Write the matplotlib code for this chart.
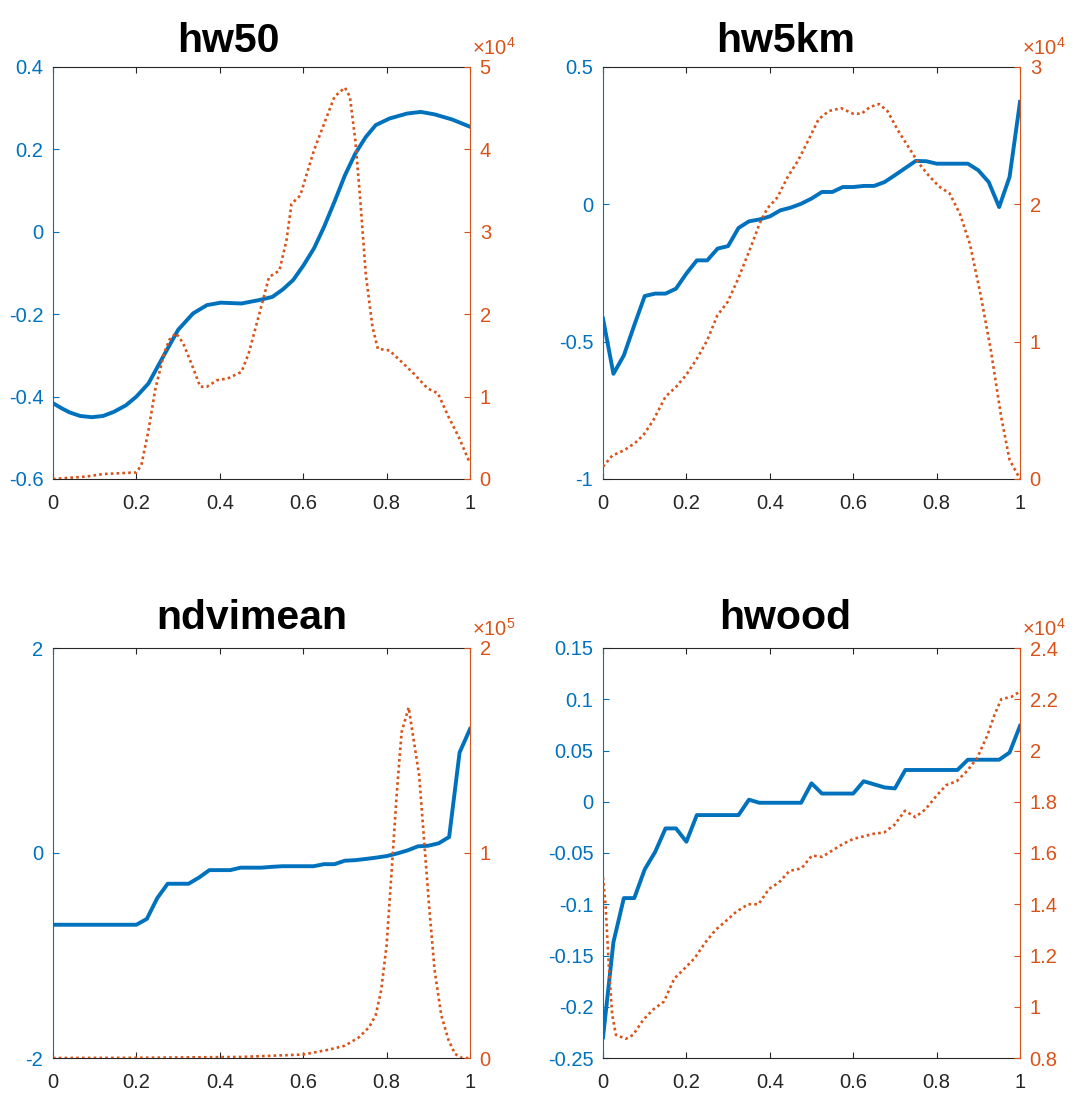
import matplotlib
matplotlib.use('Agg')
import matplotlib.pyplot as plt
import numpy as np
from matplotlib.ticker import FuncFormatter, MultipleLocator

plt.rcParams.update({
    'font.family': ['Liberation Sans', 'DejaVu Sans'],
    'mathtext.fontset': 'custom',
    'mathtext.rm': 'Liberation Sans',
    'axes.unicode_minus': False,
})

BLUE = '#0072BD'
ORANGE = '#D95319'
DARK = '#262626'

# ---- data ----
GRID41 = np.linspace(0, 1, 41)

HW50_BLUE_X = [0, 0.02, 0.039, 0.065, 0.093, 0.12, 0.146, 0.175, 0.2, 0.229,
               0.262, 0.3, 0.336, 0.369, 0.402, 0.452, 0.493, 0.526, 0.551,
               0.576, 0.601, 0.626, 0.65, 0.675, 0.7, 0.725, 0.75, 0.774,
               0.807, 0.849, 0.882, 0.915, 0.956, 1.0]
HW50_BLUE_Y = [-0.416, -0.428, -0.438, -0.447, -0.450, -0.447, -0.437, -0.421,
               -0.400, -0.368, -0.307, -0.238, -0.198, -0.178, -0.172, -0.174,
               -0.166, -0.158, -0.140, -0.117, -0.081, -0.040, 0.012, 0.073,
               0.137, 0.190, 0.230, 0.259, 0.275, 0.287, 0.291, 0.285, 0.273,
               0.255]
HW50_OR_X = [0, 0.08, 0.12, 0.2, 0.212, 0.229, 0.245, 0.266, 0.279, 0.295,
             0.312, 0.332, 0.353, 0.369, 0.394, 0.419, 0.452, 0.469, 0.493,
             0.518, 0.543, 0.56, 0.572, 0.593, 0.609, 0.626, 0.65, 0.675, 0.7,
             0.712, 0.725, 0.737, 0.75, 0.766, 0.779, 0.807, 0.832, 0.865,
             0.898, 0.923, 0.948, 0.973, 1.0]
HW50_OR_Y = [0.0, 0.03, 0.06, 0.08, 0.17, 0.59, 1.08, 1.52, 1.69, 1.77, 1.65,
             1.40, 1.12, 1.12, 1.20, 1.22, 1.30, 1.52, 1.97, 2.45, 2.53, 2.90,
             3.34, 3.44, 3.71, 3.99, 4.31, 4.64, 4.75, 4.64, 4.11, 3.38, 2.49,
             1.85, 1.58, 1.56, 1.44, 1.28, 1.10, 1.04, 0.76, 0.51, 0.19]

HW5KM_BLUE_Y = [-0.416, -0.617, -0.55, -0.44, -0.334, -0.325, -0.325, -0.307,
                -0.252, -0.204, -0.204, -0.161, -0.152, -0.086, -0.062, -0.055,
                -0.044, -0.022, -0.012, 0.002, 0.021, 0.045, 0.045, 0.063,
                0.063, 0.067, 0.067, 0.081, 0.106, 0.132, 0.158, 0.157, 0.148,
                0.148, 0.148, 0.148, 0.124, 0.081, -0.010, 0.1, 0.373]
HW5KM_OR_X = [0, 0.022, 0.051, 0.076, 0.097, 0.121, 0.15, 0.175, 0.2, 0.224,
              0.25, 0.274, 0.299, 0.323, 0.352, 0.377, 0.394, 0.418, 0.443,
              0.468, 0.493, 0.517, 0.542, 0.571, 0.6, 0.62, 0.641, 0.662,
              0.682, 0.707, 0.732, 0.757, 0.781, 0.806, 0.831, 0.856, 0.88,
              0.905, 0.93, 0.955, 0.975, 1.0]
HW5KM_OR_Y = [0.09, 0.17, 0.21, 0.26, 0.32, 0.43, 0.60, 0.67, 0.76, 0.87, 1.01,
              1.19, 1.29, 1.45, 1.67, 1.87, 1.97, 2.05, 2.20, 2.32, 2.47, 2.62,
              2.68, 2.70, 2.66, 2.66, 2.71, 2.73, 2.68, 2.54, 2.42, 2.30, 2.21,
              2.13, 2.08, 1.93, 1.71, 1.35, 0.94, 0.45, 0.14, 0.0]

NDVI_BLUE_Y = [-0.70, -0.70, -0.70, -0.70, -0.70, -0.70, -0.70, -0.70, -0.70,
               -0.643, -0.44, -0.30, -0.30, -0.30, -0.24, -0.167, -0.167,
               -0.167, -0.143, -0.143, -0.143, -0.135, -0.129, -0.129, -0.129,
               -0.129, -0.109, -0.109, -0.075, -0.070, -0.058, -0.045, -0.030,
               -0.005, 0.025, 0.065, 0.071, 0.095, 0.156, 0.98, 1.21]
NDVI_OR_X = [0, 0.2, 0.45, 0.6, 0.66, 0.7, 0.733, 0.758, 0.774, 0.787, 0.8,
             0.812, 0.824, 0.836, 0.853, 0.865, 0.878, 0.89, 0.902, 0.915,
             0.931, 0.948, 0.964, 0.981, 1.0]
NDVI_OR_Y = [0.0, 0.001, 0.005, 0.017, 0.04, 0.06, 0.10, 0.15, 0.21, 0.33,
             0.55, 0.91, 1.28, 1.59, 1.71, 1.55, 1.38, 1.06, 0.74, 0.43, 0.21,
             0.09, 0.02, 0.0, 0.0]

HWOOD_BLUE_Y = [-0.230, -0.137, -0.094, -0.094, -0.066, -0.049, -0.026, -0.026,
                -0.039, -0.013, -0.013, -0.013, -0.013, -0.013, 0.002, -0.001,
                -0.001, -0.001, -0.001, -0.001, 0.018, 0.008, 0.008, 0.008,
                0.008, 0.020, 0.017, 0.014, 0.013, 0.031, 0.031, 0.031, 0.031,
                0.031, 0.031, 0.041, 0.041, 0.041, 0.041, 0.048, 0.074]
HWOOD_OR_X = [0, 0.006, 0.014, 0.022, 0.031, 0.047, 0.055, 0.072, 0.097,
              0.121, 0.146, 0.171, 0.196, 0.22, 0.245, 0.27, 0.295, 0.319,
              0.348, 0.373, 0.398, 0.422, 0.447, 0.476, 0.501, 0.526, 0.55,
              0.575, 0.6, 0.625, 0.649, 0.674, 0.699, 0.724, 0.749, 0.773,
              0.798, 0.823, 0.848, 0.873, 0.897, 0.922, 0.939, 0.955, 0.98, 1.0]
HWOOD_OR_Y = [1.505, 1.40, 1.16, 0.97, 0.89, 0.88, 0.875, 0.89, 0.95, 0.99,
              1.02, 1.11, 1.15, 1.19, 1.25, 1.30, 1.335, 1.37, 1.40, 1.40,
              1.46, 1.485, 1.53, 1.54, 1.59, 1.585, 1.61, 1.635, 1.655, 1.665,
              1.675, 1.68, 1.71, 1.765, 1.74, 1.77, 1.82, 1.865, 1.88, 1.92,
              1.97, 2.06, 2.14, 2.20, 2.21, 2.23]

PANELS = [
    dict(title='hw50', bx=HW50_BLUE_X, by=HW50_BLUE_Y, ox=HW50_OR_X,
         oy=HW50_OR_Y, exp=4, ylim=(-0.6, 0.4), ystep=0.2,
         rlim=(0, 5), rstep=1),
    dict(title='hw5km', bx=GRID41, by=HW5KM_BLUE_Y, ox=HW5KM_OR_X,
         oy=HW5KM_OR_Y, exp=4, ylim=(-1, 0.5), ystep=0.5,
         rlim=(0, 3), rstep=1),
    dict(title='ndvimean', bx=GRID41, by=NDVI_BLUE_Y, ox=NDVI_OR_X,
         oy=NDVI_OR_Y, exp=5, ylim=(-2, 2), ystep=2,
         rlim=(0, 2), rstep=1),
    dict(title='hwood', bx=GRID41, by=HWOOD_BLUE_Y, ox=HWOOD_OR_X,
         oy=HWOOD_OR_Y, exp=4, ylim=(-0.25, 0.15), ystep=0.05,
         rlim=(0.8, 2.4), rstep=0.2),
]

# axes rectangles in figure fractions (pixel layout of a 1078x1099 figure)
W, H = 1078, 1099
RECTS = [(53, 67, 417, 412), (603, 67, 417, 412),
         (53, 648, 417, 410), (603, 648, 417, 410)]
TITLE_X = [0.42, 0.438, 0.477, 0.436]
TITLE_PAD = [10.8, 10.8, 13.7, 13.7]
FS = 14.5


def fmt(v, _pos):
    s = f'{v:.2f}'.rstrip('0').rstrip('.')
    return '0' if s in ('-0', '') else s


fig = plt.figure(figsize=(W / 100, H / 100), dpi=100)

for p, (px, py, pw, ph), tx, tpad in zip(PANELS, RECTS, TITLE_X, TITLE_PAD):
    ax = fig.add_axes([px / W, 1 - (py + ph) / H, pw / W, ph / H])
    ax2 = ax.twinx()
    scale = 10 ** p['exp']

    ax.plot(p['bx'], p['by'], color=BLUE, lw=2.8, solid_joinstyle='round')
    ax2.plot(p['ox'], np.array(p['oy']) * scale, color=ORANGE,
             lw=1.9, dashes=(1, 1.2))

    ax.set_xlim(0, 1)
    ax.set_ylim(*p['ylim'])
    ax2.set_ylim(p['rlim'][0] * scale, p['rlim'][1] * scale)
    ax.xaxis.set_major_locator(MultipleLocator(0.2))
    ax.yaxis.set_major_locator(MultipleLocator(p['ystep']))
    ax2.yaxis.set_major_locator(MultipleLocator(p['rstep'] * scale))
    ax.xaxis.set_major_formatter(FuncFormatter(fmt))
    ax.yaxis.set_major_formatter(FuncFormatter(fmt))
    ax2.yaxis.set_major_formatter(
        FuncFormatter(lambda v, pos, s=scale: fmt(v / s, pos)))

    for name in ('top', 'bottom'):
        ax.spines[name].set_color(DARK)
        ax.spines[name].set_linewidth(0.8)
    ax.spines['left'].set_color(BLUE)
    ax.spines['right'].set_visible(False)
    for name in ('left', 'top', 'bottom'):
        ax2.spines[name].set_visible(False)
    ax2.spines['right'].set_color(ORANGE)
    ax.spines['left'].set_linewidth(0.8)
    ax2.spines['right'].set_linewidth(0.8)

    ax.tick_params(axis='x', direction='in', top=True, length=4, width=0.8,
                   color=DARK, labelcolor=DARK, labelsize=FS, pad=11)
    ax.tick_params(axis='y', direction='in', length=4, width=0.8,
                   color=BLUE, labelcolor=BLUE, labelsize=FS, pad=7)
    ax2.tick_params(axis='y', direction='in', length=4, width=0.8,
                    color=ORANGE, labelcolor=ORANGE, labelsize=FS, pad=7)

    ax2.text(1.004, 1.03, '×10$^{%d}$' % p['exp'], transform=ax2.transAxes,
             ha='left', va='baseline', fontsize=FS, color=ORANGE)
    ax.set_title(p['title'], x=tx, pad=tpad, fontsize=29.5,
                 fontweight='bold')

fig.savefig('out.png', dpi=100)
